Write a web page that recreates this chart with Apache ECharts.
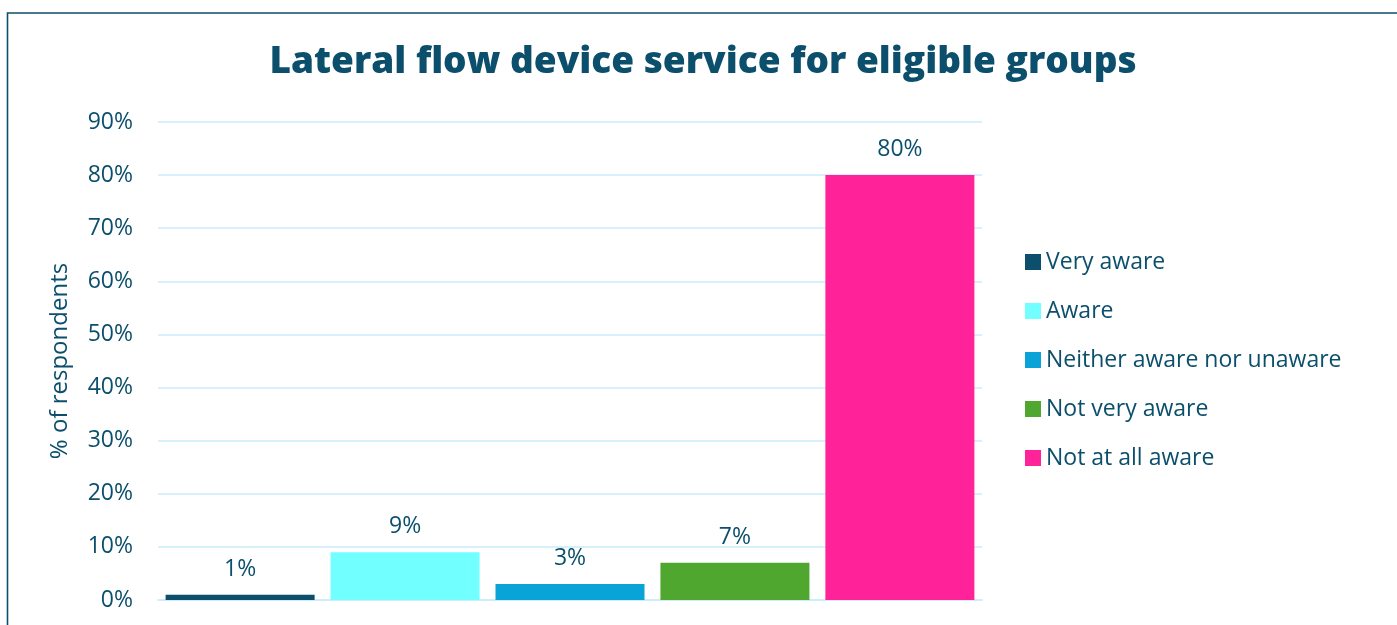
<!DOCTYPE html>
<html>
<head>
<meta charset="utf-8">
<script src="https://cdn.jsdelivr.net/npm/echarts@6/dist/echarts.min.js"></script>
<style>
  html, body { margin: 0; padding: 0; background: #ffffff; }
  #chart { width: 1397px; height: 625px; }
</style>
</head>
<body>
<div id="chart"></div>
<script>
// Awareness of the lateral flow device service (share of respondents)
const seriesNames = ['Very aware', 'Aware', 'Neither aware nor unaware', 'Not very aware', 'Not at all aware'];
const seriesValues = [1, 9, 3, 7, 80];
const seriesColors = ['#0b4f6c', '#72ffff', '#0aa3d8', '#4fa72f', '#ff2299'];
const yTicks = [0, 10, 20, 30, 40, 50, 60, 70, 80, 90];

const ink = '#0b4f6c';
const font = "'Open Sans', sans-serif";

const chart = echarts.init(document.getElementById('chart'), null, { renderer: 'canvas' });

const series = seriesNames.map((name, i) => ({
  name: name,
  type: 'bar',
  data: [seriesValues[i]],
  barWidth: 149,
  barGap: '10.7%',
  itemStyle: { color: seriesColors[i] },
  label: {
    show: true,
    position: 'top',
    distance: 14,
    formatter: '{c}%',
    color: ink,
    fontFamily: font,
    fontSize: 23
  }
}));

chart.setOption({
  backgroundColor: '#ffffff',
  animation: false,
  title: {
    text: 'Lateral flow device service for eligible groups',
    left: 698,
    top: 39,
    textAlign: 'center',
    textStyle: {
      color: ink,
      fontFamily: font,
      fontWeight: 800,
      fontSize: 37
    }
  },
  graphic: [{
    type: 'polyline',
    shape: { points: [[7.5, 640], [7.5, 13], [1400, 13]] },
    style: { stroke: ink, lineWidth: 1.6, fill: null }
  }],
  legend: {
    orient: 'vertical',
    left: 1020,
    top: 245,
    itemWidth: 16,
    itemHeight: 16,
    itemGap: 25,
    icon: 'rect',
    data: seriesNames,
    textStyle: {
      color: ink,
      fontFamily: font,
      fontSize: 23,
      lineHeight: 24
    }
  },
  grid: {
    left: 158,
    right: 415,
    top: 122,
    bottom: 25,
    containLabel: false
  },
  xAxis: {
    type: 'category',
    data: [''],
    axisLine: { show: true, lineStyle: { color: '#c8ecfb', width: 1.5 } },
    axisTick: { show: false },
    axisLabel: { show: false }
  },
  yAxis: {
    type: 'value',
    min: yTicks[0],
    max: yTicks[yTicks.length - 1],
    interval: 10,
    name: '% of respondents',
    nameLocation: 'middle',
    nameGap: 86,
    nameTextStyle: { color: ink, fontFamily: font, fontSize: 24 },
    axisLine: { show: false },
    axisTick: { show: false },
    axisLabel: {
      formatter: '{value}%',
      color: ink,
      fontFamily: font,
      fontSize: 23,
      margin: 25
    },
    splitLine: { lineStyle: { color: '#c8ecfb', width: 1.5 } }
  },
  series: series
});
</script>
</body>
</html>
